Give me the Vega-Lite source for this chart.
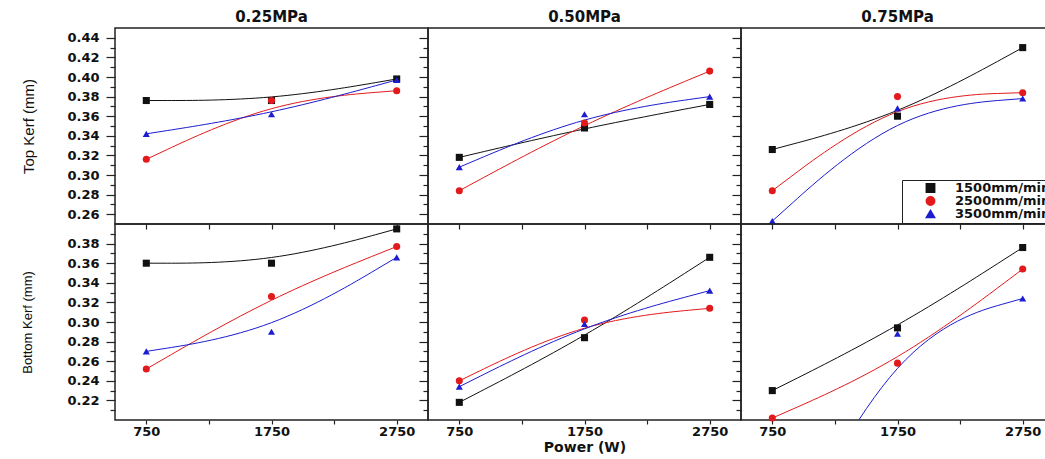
{
  "$schema": "https://vega.github.io/schema/vega-lite/v6.json",
  "background": "white",
  "padding": {"left": 21, "top": 9, "right": 0, "bottom": 0},
  "bounds": "flush",
  "spacing": 0,
  "columns": 3,
  "datasets": {
    "kerf": [
      {"kerf": "Top", "pressure": "0.25MPa", "speed": "1500mm/min", "power": 750, "value": 0.376},
      {"kerf": "Top", "pressure": "0.25MPa", "speed": "1500mm/min", "power": 1750, "value": 0.376},
      {"kerf": "Top", "pressure": "0.25MPa", "speed": "1500mm/min", "power": 2750, "value": 0.398},
      {"kerf": "Top", "pressure": "0.25MPa", "speed": "2500mm/min", "power": 750, "value": 0.316},
      {"kerf": "Top", "pressure": "0.25MPa", "speed": "2500mm/min", "power": 1750, "value": 0.376},
      {"kerf": "Top", "pressure": "0.25MPa", "speed": "2500mm/min", "power": 2750, "value": 0.386},
      {"kerf": "Top", "pressure": "0.25MPa", "speed": "3500mm/min", "power": 750, "value": 0.342},
      {"kerf": "Top", "pressure": "0.25MPa", "speed": "3500mm/min", "power": 1750, "value": 0.362},
      {"kerf": "Top", "pressure": "0.25MPa", "speed": "3500mm/min", "power": 2750, "value": 0.397},
      {"kerf": "Top", "pressure": "0.50MPa", "speed": "1500mm/min", "power": 750, "value": 0.318},
      {"kerf": "Top", "pressure": "0.50MPa", "speed": "1500mm/min", "power": 1750, "value": 0.348},
      {"kerf": "Top", "pressure": "0.50MPa", "speed": "1500mm/min", "power": 2750, "value": 0.372},
      {"kerf": "Top", "pressure": "0.50MPa", "speed": "2500mm/min", "power": 750, "value": 0.284},
      {"kerf": "Top", "pressure": "0.50MPa", "speed": "2500mm/min", "power": 1750, "value": 0.353},
      {"kerf": "Top", "pressure": "0.50MPa", "speed": "2500mm/min", "power": 2750, "value": 0.406},
      {"kerf": "Top", "pressure": "0.50MPa", "speed": "3500mm/min", "power": 750, "value": 0.308},
      {"kerf": "Top", "pressure": "0.50MPa", "speed": "3500mm/min", "power": 1750, "value": 0.362},
      {"kerf": "Top", "pressure": "0.50MPa", "speed": "3500mm/min", "power": 2750, "value": 0.380},
      {"kerf": "Top", "pressure": "0.75MPa", "speed": "1500mm/min", "power": 750, "value": 0.326},
      {"kerf": "Top", "pressure": "0.75MPa", "speed": "1500mm/min", "power": 1750, "value": 0.360},
      {"kerf": "Top", "pressure": "0.75MPa", "speed": "1500mm/min", "power": 2750, "value": 0.430},
      {"kerf": "Top", "pressure": "0.75MPa", "speed": "2500mm/min", "power": 750, "value": 0.284},
      {"kerf": "Top", "pressure": "0.75MPa", "speed": "2500mm/min", "power": 1750, "value": 0.380},
      {"kerf": "Top", "pressure": "0.75MPa", "speed": "2500mm/min", "power": 2750, "value": 0.384},
      {"kerf": "Top", "pressure": "0.75MPa", "speed": "3500mm/min", "power": 750, "value": 0.253},
      {"kerf": "Top", "pressure": "0.75MPa", "speed": "3500mm/min", "power": 1750, "value": 0.368},
      {"kerf": "Top", "pressure": "0.75MPa", "speed": "3500mm/min", "power": 2750, "value": 0.378},
      {"kerf": "Bottom", "pressure": "0.25MPa", "speed": "1500mm/min", "power": 750, "value": 0.360},
      {"kerf": "Bottom", "pressure": "0.25MPa", "speed": "1500mm/min", "power": 1750, "value": 0.360},
      {"kerf": "Bottom", "pressure": "0.25MPa", "speed": "1500mm/min", "power": 2750, "value": 0.395},
      {"kerf": "Bottom", "pressure": "0.25MPa", "speed": "2500mm/min", "power": 750, "value": 0.252},
      {"kerf": "Bottom", "pressure": "0.25MPa", "speed": "2500mm/min", "power": 1750, "value": 0.326},
      {"kerf": "Bottom", "pressure": "0.25MPa", "speed": "2500mm/min", "power": 2750, "value": 0.377},
      {"kerf": "Bottom", "pressure": "0.25MPa", "speed": "3500mm/min", "power": 750, "value": 0.270},
      {"kerf": "Bottom", "pressure": "0.25MPa", "speed": "3500mm/min", "power": 1750, "value": 0.290},
      {"kerf": "Bottom", "pressure": "0.25MPa", "speed": "3500mm/min", "power": 2750, "value": 0.366},
      {"kerf": "Bottom", "pressure": "0.50MPa", "speed": "1500mm/min", "power": 750, "value": 0.218},
      {"kerf": "Bottom", "pressure": "0.50MPa", "speed": "1500mm/min", "power": 1750, "value": 0.284},
      {"kerf": "Bottom", "pressure": "0.50MPa", "speed": "1500mm/min", "power": 2750, "value": 0.366},
      {"kerf": "Bottom", "pressure": "0.50MPa", "speed": "2500mm/min", "power": 750, "value": 0.240},
      {"kerf": "Bottom", "pressure": "0.50MPa", "speed": "2500mm/min", "power": 1750, "value": 0.302},
      {"kerf": "Bottom", "pressure": "0.50MPa", "speed": "2500mm/min", "power": 2750, "value": 0.314},
      {"kerf": "Bottom", "pressure": "0.50MPa", "speed": "3500mm/min", "power": 750, "value": 0.234},
      {"kerf": "Bottom", "pressure": "0.50MPa", "speed": "3500mm/min", "power": 1750, "value": 0.298},
      {"kerf": "Bottom", "pressure": "0.50MPa", "speed": "3500mm/min", "power": 2750, "value": 0.332},
      {"kerf": "Bottom", "pressure": "0.75MPa", "speed": "1500mm/min", "power": 750, "value": 0.230},
      {"kerf": "Bottom", "pressure": "0.75MPa", "speed": "1500mm/min", "power": 1750, "value": 0.294},
      {"kerf": "Bottom", "pressure": "0.75MPa", "speed": "1500mm/min", "power": 2750, "value": 0.376},
      {"kerf": "Bottom", "pressure": "0.75MPa", "speed": "2500mm/min", "power": 750, "value": 0.202},
      {"kerf": "Bottom", "pressure": "0.75MPa", "speed": "2500mm/min", "power": 1750, "value": 0.258},
      {"kerf": "Bottom", "pressure": "0.75MPa", "speed": "2500mm/min", "power": 2750, "value": 0.354},
      {"kerf": "Bottom", "pressure": "0.75MPa", "speed": "3500mm/min", "power": 750, "value": 0.040},
      {"kerf": "Bottom", "pressure": "0.75MPa", "speed": "3500mm/min", "power": 1750, "value": 0.288},
      {"kerf": "Bottom", "pressure": "0.75MPa", "speed": "3500mm/min", "power": 2750, "value": 0.324}
    ]
  },
  "config": {
    "view": {"stroke": "#222222", "strokeWidth": 1.5},
    "axis": {
      "grid": false,
      "domain": false,
      "tickColor": "#222222",
      "tickWidth": 1.2,
      "labelFont": "DejaVu Sans",
      "labelFontWeight": "bold",
      "labelFontSize": 13,
      "labelColor": "#111111",
      "titleColor": "#111111"
    },
    "title": {"font": "DejaVu Sans", "fontWeight": "bold", "fontSize": 15, "color": "#111111", "offset": 3}
  },
  "resolve": {"scale": {"color": "independent", "shape": "independent"}},
  "concat": [
    {
      "width": 313, "height": 196,
      "title": {"text": "0.25MPa"},
      "data": {"name": "kerf"},
      "transform": [{"filter": "datum.kerf == 'Top' && datum.pressure == '0.25MPa'"}],
      "encoding": {
        "x": {"field": "power", "type": "quantitative", "scale": {"domain": [500, 3000], "nice": false, "zero": false},
          "axis": {"values": [750, 1250, 1750, 2250, 2750], "labels": false, "title": null, "tickSize": 5}},
        "y": {"field": "value", "type": "quantitative", "scale": {"domain": [0.25, 0.45], "nice": false, "zero": false},
          "axis": {"values": [0.26, 0.27, 0.28, 0.29, 0.30, 0.31, 0.32, 0.33, 0.34, 0.35, 0.36, 0.37, 0.38, 0.39, 0.40, 0.41, 0.42, 0.43, 0.44],
            "labelExpr": "round(datum.value*100)%2==0 ? format(datum.value,'.2f') : ''",
            "tickSize": {"condition": {"test": "round(datum.value*100)%2==0", "value": 9}, "value": 5},
            "labelPadding": 7, "title": "Top Kerf (mm)", "titleFont": "Liberation Sans", "titleFontWeight": "normal", "titleFontSize": 15, "titlePadding": 30}},
        "color": {"field": "speed", "type": "nominal", "scale": {"domain": ["1500mm/min", "2500mm/min", "3500mm/min"], "range": ["#111111", "#e31a1c", "#1c1cd0"]}, "legend": null}
      },
      "layer": [
        {"mark": {"type": "line", "interpolate": "basis", "strokeWidth": 1, "clip": true}},
        {"transform": [{"filter": "datum.value >= 0.195"}],
         "mark": {"type": "point", "filled": true, "size": 50, "opacity": 1},
         "encoding": {"shape": {"field": "speed", "type": "nominal", "scale": {"domain": ["1500mm/min", "2500mm/min", "3500mm/min"], "range": ["square", "circle", "triangle-up"]}, "legend": null}}}
      ]
    },
    {
      "width": 313, "height": 196,
      "title": {"text": "0.50MPa"},
      "data": {"name": "kerf"},
      "transform": [{"filter": "datum.kerf == 'Top' && datum.pressure == '0.50MPa'"}],
      "encoding": {
        "x": {"field": "power", "type": "quantitative", "scale": {"domain": [500, 3000], "nice": false, "zero": false},
          "axis": {"values": [750, 1250, 1750, 2250, 2750], "labels": false, "title": null, "tickSize": 5}},
        "y": {"field": "value", "type": "quantitative", "scale": {"domain": [0.25, 0.45], "nice": false, "zero": false},
          "axis": {"values": [0.26, 0.27, 0.28, 0.29, 0.30, 0.31, 0.32, 0.33, 0.34, 0.35, 0.36, 0.37, 0.38, 0.39, 0.40, 0.41, 0.42, 0.43, 0.44],
            "labels": false, "title": null,
            "tickSize": {"condition": {"test": "round(datum.value*100)%2==0", "value": 9}, "value": 5}}},
        "color": {"field": "speed", "type": "nominal", "scale": {"domain": ["1500mm/min", "2500mm/min", "3500mm/min"], "range": ["#111111", "#e31a1c", "#1c1cd0"]}, "legend": null}
      },
      "layer": [
        {"mark": {"type": "line", "interpolate": "basis", "strokeWidth": 1, "clip": true}},
        {"transform": [{"filter": "datum.value >= 0.195"}],
         "mark": {"type": "point", "filled": true, "size": 50, "opacity": 1},
         "encoding": {"shape": {"field": "speed", "type": "nominal", "scale": {"domain": ["1500mm/min", "2500mm/min", "3500mm/min"], "range": ["square", "circle", "triangle-up"]}, "legend": null}}}
      ]
    },
    {
      "width": 313, "height": 196,
      "title": {"text": "0.75MPa"},
      "data": {"name": "kerf"},
      "transform": [{"filter": "datum.kerf == 'Top' && datum.pressure == '0.75MPa'"}],
      "encoding": {
        "x": {"field": "power", "type": "quantitative", "scale": {"domain": [500, 3000], "nice": false, "zero": false},
          "axis": {"values": [750, 1250, 1750, 2250, 2750], "labels": false, "title": null, "tickSize": 5}},
        "y": {"field": "value", "type": "quantitative", "scale": {"domain": [0.25, 0.45], "nice": false, "zero": false},
          "axis": {"values": [0.26, 0.27, 0.28, 0.29, 0.30, 0.31, 0.32, 0.33, 0.34, 0.35, 0.36, 0.37, 0.38, 0.39, 0.40, 0.41, 0.42, 0.43, 0.44],
            "labels": false, "title": null,
            "tickSize": {"condition": {"test": "round(datum.value*100)%2==0", "value": 9}, "value": 5}}},
        "color": {"field": "speed", "type": "nominal", "scale": {"domain": ["1500mm/min", "2500mm/min", "3500mm/min"], "range": ["#111111", "#e31a1c", "#1c1cd0"]},
          "legend": {"title": null, "orient": "bottom-right", "offset": 1, "strokeColor": "#222222", "fillColor": "white", "padding": 2, "labelFont": "DejaVu Sans", "labelFontWeight": "bold", "labelFontSize": 13, "labelColor": "#111111", "symbolSize": 70, "rowPadding": 0, "clipHeight": 12, "symbolOffset": 20, "labelOffset": 18}}
      },
      "layer": [
        {"mark": {"type": "line", "interpolate": "basis", "strokeWidth": 1, "clip": true}},
        {"transform": [{"filter": "datum.value >= 0.195"}],
         "mark": {"type": "point", "filled": true, "size": 50, "opacity": 1},
         "encoding": {"shape": {"field": "speed", "type": "nominal", "scale": {"domain": ["1500mm/min", "2500mm/min", "3500mm/min"], "range": ["square", "circle", "triangle-up"]},
           "legend": {"title": null, "orient": "bottom-right", "offset": 1, "strokeColor": "#222222", "fillColor": "white", "padding": 2, "labelFont": "DejaVu Sans", "labelFontWeight": "bold", "labelFontSize": 13, "labelColor": "#111111", "symbolSize": 70, "rowPadding": 0, "clipHeight": 12, "symbolOffset": 20, "labelOffset": 18}}}}
      ]
    },
    {
      "width": 313, "height": 196,
      "data": {"name": "kerf"},
      "transform": [{"filter": "datum.kerf == 'Bottom' && datum.pressure == '0.25MPa'"}],
      "encoding": {
        "x": {"field": "power", "type": "quantitative", "scale": {"domain": [500, 3000], "nice": false, "zero": false},
          "axis": {"values": [750, 1250, 1750, 2250, 2750], "labelExpr": "datum.value == 1250 || datum.value == 2250 ? '' : format(datum.value, 'd')", "title": null, "tickSize": 4, "labelPadding": 1}},
        "y": {"field": "value", "type": "quantitative", "scale": {"domain": [0.20, 0.40], "nice": false, "zero": false},
          "axis": {"values": [0.21, 0.22, 0.23, 0.24, 0.25, 0.26, 0.27, 0.28, 0.29, 0.30, 0.31, 0.32, 0.33, 0.34, 0.35, 0.36, 0.37, 0.38, 0.39],
            "labelExpr": "round(datum.value*100)%2==0 ? format(datum.value,'.2f') : ''",
            "tickSize": {"condition": {"test": "round(datum.value*100)%2==0", "value": 9}, "value": 5},
            "labelPadding": 7, "title": "Bottom Kerf (mm)", "titleFont": "Liberation Sans", "titleFontWeight": "normal", "titleFontSize": 13, "titlePadding": 32}},
        "color": {"field": "speed", "type": "nominal", "scale": {"domain": ["1500mm/min", "2500mm/min", "3500mm/min"], "range": ["#111111", "#e31a1c", "#1c1cd0"]}, "legend": null}
      },
      "layer": [
        {"mark": {"type": "line", "interpolate": "basis", "strokeWidth": 1, "clip": true}},
        {"transform": [{"filter": "datum.value >= 0.195"}],
         "mark": {"type": "point", "filled": true, "size": 50, "opacity": 1},
         "encoding": {"shape": {"field": "speed", "type": "nominal", "scale": {"domain": ["1500mm/min", "2500mm/min", "3500mm/min"], "range": ["square", "circle", "triangle-up"]}, "legend": null}}}
      ]
    },
    {
      "width": 313, "height": 196,
      "data": {"name": "kerf"},
      "transform": [{"filter": "datum.kerf == 'Bottom' && datum.pressure == '0.50MPa'"}],
      "encoding": {
        "x": {"field": "power", "type": "quantitative", "scale": {"domain": [500, 3000], "nice": false, "zero": false},
          "axis": {"values": [750, 1250, 1750, 2250, 2750], "labelExpr": "datum.value == 1250 || datum.value == 2250 ? '' : format(datum.value, 'd')", "tickSize": 4, "labelPadding": 1,
            "title": "Power (W)", "titleFont": "DejaVu Sans", "titleFontWeight": "bold", "titleFontSize": 14, "titlePadding": 2}},
        "y": {"field": "value", "type": "quantitative", "scale": {"domain": [0.20, 0.40], "nice": false, "zero": false},
          "axis": {"values": [0.21, 0.22, 0.23, 0.24, 0.25, 0.26, 0.27, 0.28, 0.29, 0.30, 0.31, 0.32, 0.33, 0.34, 0.35, 0.36, 0.37, 0.38, 0.39],
            "labels": false, "title": null,
            "tickSize": {"condition": {"test": "round(datum.value*100)%2==0", "value": 9}, "value": 5}}},
        "color": {"field": "speed", "type": "nominal", "scale": {"domain": ["1500mm/min", "2500mm/min", "3500mm/min"], "range": ["#111111", "#e31a1c", "#1c1cd0"]}, "legend": null}
      },
      "layer": [
        {"mark": {"type": "line", "interpolate": "basis", "strokeWidth": 1, "clip": true}},
        {"transform": [{"filter": "datum.value >= 0.195"}],
         "mark": {"type": "point", "filled": true, "size": 50, "opacity": 1},
         "encoding": {"shape": {"field": "speed", "type": "nominal", "scale": {"domain": ["1500mm/min", "2500mm/min", "3500mm/min"], "range": ["square", "circle", "triangle-up"]}, "legend": null}}}
      ]
    },
    {
      "width": 313, "height": 196,
      "data": {"name": "kerf"},
      "transform": [{"filter": "datum.kerf == 'Bottom' && datum.pressure == '0.75MPa'"}],
      "encoding": {
        "x": {"field": "power", "type": "quantitative", "scale": {"domain": [500, 3000], "nice": false, "zero": false},
          "axis": {"values": [750, 1250, 1750, 2250, 2750], "labelExpr": "datum.value == 1250 || datum.value == 2250 ? '' : format(datum.value, 'd')", "title": null, "tickSize": 4, "labelPadding": 1}},
        "y": {"field": "value", "type": "quantitative", "scale": {"domain": [0.20, 0.40], "nice": false, "zero": false},
          "axis": {"values": [0.21, 0.22, 0.23, 0.24, 0.25, 0.26, 0.27, 0.28, 0.29, 0.30, 0.31, 0.32, 0.33, 0.34, 0.35, 0.36, 0.37, 0.38, 0.39],
            "labels": false, "title": null,
            "tickSize": {"condition": {"test": "round(datum.value*100)%2==0", "value": 9}, "value": 5}}},
        "color": {"field": "speed", "type": "nominal", "scale": {"domain": ["1500mm/min", "2500mm/min", "3500mm/min"], "range": ["#111111", "#e31a1c", "#1c1cd0"]}, "legend": null}
      },
      "layer": [
        {"mark": {"type": "line", "interpolate": "basis", "strokeWidth": 1, "clip": true}},
        {"transform": [{"filter": "datum.value >= 0.195"}],
         "mark": {"type": "point", "filled": true, "size": 50, "opacity": 1},
         "encoding": {"shape": {"field": "speed", "type": "nominal", "scale": {"domain": ["1500mm/min", "2500mm/min", "3500mm/min"], "range": ["square", "circle", "triangle-up"]}, "legend": null}}}
      ]
    }
  ]
}
